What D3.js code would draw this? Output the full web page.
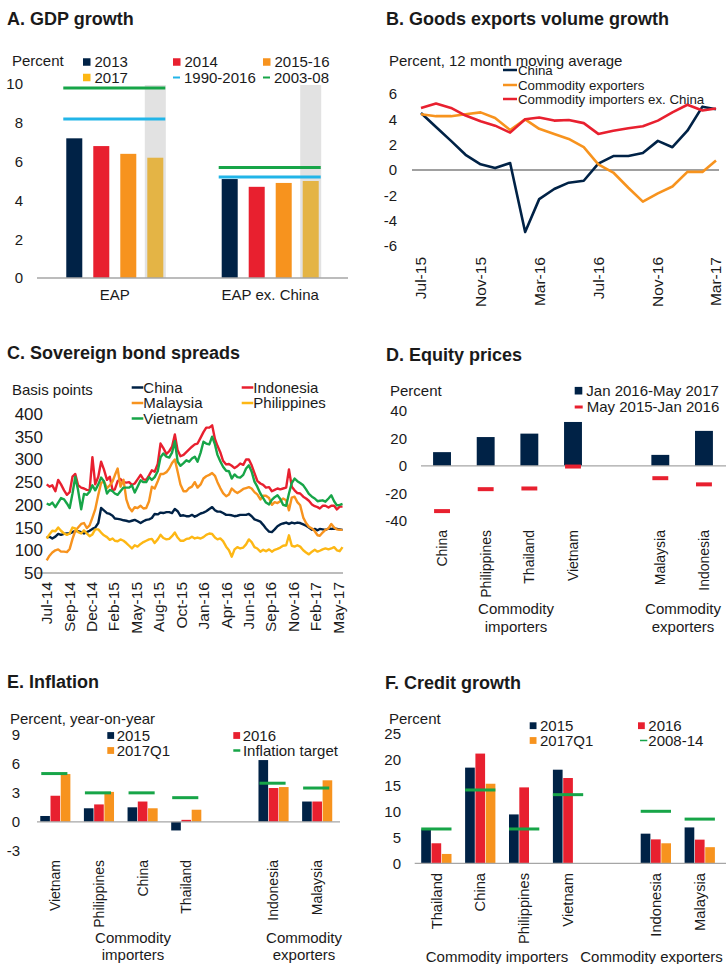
<!DOCTYPE html>
<html>
<head>
<meta charset="utf-8">
<script src="https://cdn.jsdelivr.net/npm/d3@7"></script>
<style>
  html, body { margin: 0; padding: 0; background: #ffffff; }
  svg { display: block; font-family: "Liberation Sans", Arial, sans-serif; }
</style>
</head>
<body>
<svg id="chart" width="728" height="964"></svg>
<script>
// ---------------- Panel A: GDP growth ----------------
const gdpCategories = ["EAP", "EAP ex. China"];
const gdpSeriesNames = ["2013", "2014", "2015-16", "2017"];
const gdp2013 = [7.2, 5.1];
const gdp2014 = [6.8, 4.7];
const gdp2015_16 = [6.4, 4.9];
const gdp2017 = [6.2, 5.0];
const gdpAvg1990_2016 = [8.2, 5.2];
const gdpAvg2003_08 = [9.8, 5.7];
const gdpTicks = [0, 2, 4, 6, 8, 10];

// ---------------- Panel B: Goods exports volume growth ----------------
const exportMonths = ["Jul-15","Aug-15","Sep-15","Oct-15","Nov-15","Dec-15","Jan-16","Feb-16","Mar-16","Apr-16","May-16","Jun-16","Jul-16","Aug-16","Sep-16","Oct-16","Nov-16","Dec-16","Jan-17","Feb-17","Mar-17"];
const exportChina = [4.5, 3.4, 2.3, 1.2, 0.45, 0.15, 0.55, -4.9, -2.3, -1.5, -1.0, -0.85, 0.5, 1.1, 1.1, 1.35, 2.3, 1.8, 3.1, 5.0, 4.8];
const exportCommodityExporters = [4.4, 4.25, 4.25, 4.4, 4.55, 4.1, 3.15, 4.0, 3.25, 2.85, 2.45, 1.8, 0.45, -0.2, -1.4, -2.5, -1.85, -1.3, -0.15, -0.15, 0.75];
const exportCommodityImporters = [4.9, 5.25, 4.9, 4.3, 3.85, 3.5, 2.95, 4.0, 4.15, 3.9, 3.95, 3.7, 2.85, 3.1, 3.3, 3.45, 3.9, 4.55, 5.15, 4.7, 4.85];
const exportTickMonths = ["Jul-15", "Nov-15", "Mar-16", "Jul-16", "Nov-16", "Mar-17"];
const exportYTicks = [-6, -4, -2, 0, 2, 4, 6];

// ---------------- Panel C: Sovereign bond spreads ----------------
const spreadDates = [
  "2014-07-01","2014-07-11","2014-07-21","2014-08-01","2014-08-11","2014-08-21","2014-09-01","2014-09-11","2014-09-21",
  "2014-10-01","2014-10-11","2014-10-21","2014-11-01","2014-11-11","2014-11-21","2014-12-01","2014-12-11","2014-12-21",
  "2015-01-01","2015-01-11","2015-01-21","2015-02-01","2015-02-11","2015-02-21","2015-03-01",
  "2015-03-11","2015-03-21","2015-04-01","2015-04-11","2015-04-21","2015-05-01","2015-05-11","2015-05-21",
  "2015-06-01","2015-06-11","2015-06-21","2015-07-01","2015-07-11","2015-07-21","2015-08-01","2015-08-11","2015-08-21",
  "2015-09-01","2015-09-11","2015-09-21","2015-10-01","2015-10-11","2015-10-21","2015-11-01","2015-11-11","2015-11-21",
  "2015-12-01","2015-12-11",
  "2015-12-21","2016-01-01","2016-01-11","2016-01-21","2016-02-01","2016-02-11","2016-02-21","2016-03-01","2016-03-11",
  "2016-03-21","2016-04-01","2016-04-11","2016-04-21","2016-05-01","2016-05-11","2016-05-21","2016-06-01","2016-06-11",
  "2016-06-21","2016-07-01","2016-07-11","2016-07-21","2016-08-01","2016-08-11","2016-08-21","2016-09-01",
  "2016-09-11","2016-09-21","2016-10-01","2016-10-11","2016-10-21","2016-11-01","2016-11-11","2016-11-21","2016-12-01",
  "2016-12-11","2016-12-21","2017-01-01","2017-01-11","2017-01-21","2017-02-01","2017-02-11","2017-02-21","2017-03-01",
  "2017-03-11","2017-03-21","2017-04-01","2017-04-11","2017-04-21","2017-05-01","2017-05-11","2017-05-21"
];
const spreadChina = [
  128,130,126,130,136,134,136,137,137,140,143,142,140,137,140,143,147,150,160,193,188,182,180,176,170,
  169,168,166,165,163,165,167,164,160,164,167,168,171,180,179,183,182,184,184,182,191,186,176,177,175,175,178,174,
  177,181,183,186,191,195,188,185,185,182,178,178,177,175,176,178,178,178,180,175,168,166,163,156,148,141,
  140,146,153,157,159,161,158,161,159,161,160,157,154,150,145,147,144,147,146,145,148,147,148,147,146,145
];
const spreadIndonesia = [
  245,240,243,230,255,245,232,222,228,262,268,243,238,236,233,232,305,245,262,295,278,255,262,232,234,
  252,257,250,249,250,244,247,256,266,256,255,265,276,273,290,335,325,312,318,328,355,320,307,310,316,322,328,333,
  335,348,360,370,370,375,345,330,316,297,289,290,286,281,285,291,288,300,300,287,270,253,247,244,238,239,
  230,233,236,234,236,238,278,240,232,226,225,218,214,209,201,197,195,192,198,198,194,198,198,190,196,196
];
const spreadMalaysia = [
  78,88,95,100,102,97,97,96,103,125,143,150,158,160,149,155,172,190,222,248,252,237,243,252,265,
  280,240,255,212,194,186,195,193,198,192,193,208,240,236,252,268,268,272,280,292,300,273,245,230,230,237,240,250,
  238,245,258,263,266,270,264,250,237,226,219,223,236,230,226,230,235,237,239,236,228,223,212,220,220,215,
  200,206,204,208,214,210,188,216,218,206,199,172,160,152,148,142,133,132,139,145,148,158,150,146,145,145
];
const spreadPhilippines = [
  126,135,143,142,150,143,137,134,137,150,148,140,137,144,137,131,135,146,146,139,133,129,123,126,121,
  120,124,121,116,110,104,111,108,114,118,121,124,125,116,124,134,127,124,125,131,139,128,121,121,125,126,130,126,
  128,126,129,134,137,136,128,124,126,120,108,100,86,102,107,104,106,113,124,118,107,104,97,101,98,102,
  97,101,103,106,110,111,133,110,108,111,108,100,95,91,97,101,97,99,102,104,102,104,107,100,98,107
];
const spreadVietnam = [
  203,200,205,195,205,215,212,203,193,225,262,232,190,224,222,229,243,232,245,260,252,225,233,230,225,
  222,230,238,238,238,243,227,240,254,250,250,261,255,261,274,305,313,306,304,315,340,295,286,292,298,295,302,306,
  295,315,339,335,333,350,333,310,296,284,275,274,258,267,261,260,266,280,287,273,251,240,225,215,205,201,
  211,217,221,213,200,198,225,248,258,252,248,243,234,224,218,214,208,209,210,207,214,221,208,199,200,202
];
const spreadTickDates = ["2014-07-01","2014-09-19","2014-12-08","2015-02-26","2015-05-17","2015-08-05","2015-10-24","2016-01-12","2016-04-01","2016-06-20","2016-09-08","2016-11-27","2017-02-15","2017-05-06"];
const spreadYTicks = [50, 100, 150, 200, 250, 300, 350, 400];

// ---------------- Panel D: Equity prices ----------------
const equityImporters = ["China", "Philippines", "Thailand", "Vietnam"];
const equityExporters = ["Malaysia", "Indonesia"];
const equityJan16May17 = [10, 21, 23.5, 32, 8, 25.5];
const equityMay15Jan16 = [-33, -17, -16.5, -0.5, -9, -13.5];
const equityYTicks = [-40, -20, 0, 20, 40];

// ---------------- Panel E: Inflation ----------------
const inflImporters = ["Vietnam", "Philippines", "China", "Thailand"];
const inflExporters = ["Indonesia", "Malaysia"];
const infl2015 = [0.6, 1.4, 1.5, -0.9, 6.4, 2.1];
const infl2016 = [2.7, 1.8, 2.1, 0.2, 3.5, 2.1];
const infl2017Q1 = [4.95, 3.1, 1.4, 1.25, 3.6, 4.3];
const inflTarget = [5, 3, 3, 2.5, 4, 3.5];
const inflYTicks = [-3, 0, 3, 6, 9];

// ---------------- Panel F: Credit growth ----------------
const creditImporters = ["Thailand", "China", "Philippines", "Vietnam"];
const creditExporters = ["Indonesia", "Malaysia"];
const credit2015 = [6.5, 18.4, 9.4, 18.0, 5.7, 6.9];
const credit2016 = [3.85, 21.1, 14.6, 16.4, 4.6, 4.55];
const credit2017Q1 = [1.8, 15.3, null, null, 3.85, 3.1];
const credit2008_14 = [6.6, 14.1, 6.6, 13.2, 10.0, 8.5];
const creditYTicks = [0, 5, 10, 15, 20, 25];

// ---------------- Styling ----------------
const NAVY = "#002246";
const RED = "#e8202f";
const ORANGE = "#f7931e";
const GOLD = "#fdb714";
const GOLD_BAR = "#e4b445";
const CYAN = "#22b5e8";
const GREEN = "#17a548";
const SHADE = "#e2e2e2";
const AXIS = "#a6a6a6";
const TEXT = "#1a1a1a";
const FONT = 15;
const FAMILY = '"Liberation Sans", Arial, sans-serif';

const svg = d3.select("#chart");
svg.append("rect").attr("width", 728).attr("height", 964).attr("fill", "#fff");

function label(parent, x, y, text, o = {}) {
  return parent.append("text")
    .attr("x", x).attr("y", y)
    .attr("dy", o.dy || "0.35em")
    .attr("text-anchor", o.anchor || "start")
    .attr("font-size", o.size || FONT)
    .attr("font-weight", o.weight || null)
    .attr("fill", o.fill || TEXT)
    .text(text);
}
function title(x, y, text) { label(svg, x, y, text, { size: 18, weight: "bold" }); }

function yAxis(parent, scale, ticks, xRight, size) {
  const g = parent.append("g")
    .attr("transform", `translate(${xRight},0)`)
    .call(d3.axisLeft(scale).tickValues(ticks).tickSize(0).tickPadding(0)
      .tickFormat(d => String(d)));
  g.select(".domain").remove();
  g.attr("font-size", size || FONT).attr("font-family", FAMILY).attr("color", TEXT);
  return g;
}
function hline(parent, x1, x2, y, color, w) {
  parent.append("line").attr("x1", x1).attr("x2", x2).attr("y1", y).attr("y2", y)
    .attr("stroke", color).attr("stroke-width", w);
}
function legendSquare(parent, x, y, size, color, text, gap) {
  parent.append("rect").attr("x", x).attr("y", y - size / 2).attr("width", size).attr("height", size).attr("fill", color);
  label(parent, x + size + gap, y, text);
}
function legendDash(parent, x, y, len, w, color, text, gap, size) {
  hline(parent, x, x + len, y, color, w);
  label(parent, x + len + gap, y, text, { size: size || FONT });
}
function rotatedLabels(parent, items, xFn, yTop, size, textFn) {
  return parent.selectAll(null).data(items).join("text")
    .attr("transform", d => `translate(${xFn(d)},${yTop}) rotate(-90)`)
    .attr("text-anchor", "end").attr("dy", "0.35em")
    .attr("font-size", size).attr("fill", TEXT)
    .text(textFn || (d => d));
}

// ================= Panel A =================
(function () {
  const g = svg.append("g");
  title(7, 19, "A. GDP growth");
  const y = d3.scaleLinear().domain([0, 10]).range([278, 84]);
  const x = d3.scaleBand().domain(gdpCategories).range([37, 348]).paddingInner(0.305).paddingOuter(0.153);
  const x1 = d3.scaleBand().domain(gdpSeriesNames).range([0, x.bandwidth()]).paddingInner(0.407).paddingOuter(0.2035);
  const values = [gdp2013, gdp2014, gdp2015_16, gdp2017];
  const colors = [NAVY, RED, ORANGE, GOLD_BAR];

  // forecast shading behind the 2017 bars
  g.selectAll(null).data(gdpCategories).join("rect")
    .attr("x", c => x(c) + x1("2017") - 2.5).attr("width", x1.bandwidth() + 5)
    .attr("y", y(10) + 1).attr("height", y(0) - y(10) - 1).attr("fill", SHADE);

  gdpSeriesNames.forEach((s, i) => {
    g.selectAll(null).data(gdpCategories).join("rect")
      .attr("x", c => x(c) + x1(s)).attr("width", x1.bandwidth())
      .attr("y", (c, j) => y(values[i][j]))
      .attr("height", (c, j) => y(0) - y(values[i][j]))
      .attr("fill", colors[i]);
  });
  hline(g, 37, 348, y(0), AXIS, 1.3);

  // long-run averages
  [[gdpAvg1990_2016, CYAN], [gdpAvg2003_08, GREEN]].forEach(([vals, col]) => {
    g.selectAll(null).data(gdpCategories).join("line")
      .attr("x1", c => x(c) + 2.5).attr("x2", c => x(c) + x.bandwidth() - 3.5)
      .attr("y1", (c, j) => y(vals[j])).attr("y2", (c, j) => y(vals[j]))
      .attr("stroke", col).attr("stroke-width", 3);
  });

  yAxis(g, y, gdpTicks, 23);
  gdpCategories.forEach(c => label(g, x(c) + x.bandwidth() / 2, 295, c, { anchor: "middle" }));

  label(g, 12, 61, "Percent");
  legendSquare(g, 83, 62, 7.5, NAVY, "2013", 4);
  legendSquare(g, 173, 62, 7.5, RED, "2014", 4);
  legendSquare(g, 263, 62, 7.5, ORANGE, "2015-16", 4);
  legendSquare(g, 83, 77.5, 7.5, GOLD, "2017", 4);
  legendDash(g, 173, 77.5, 7, 2, CYAN, "1990-2016", 4);
  legendDash(g, 263, 77.5, 7, 2, GREEN, "2003-08", 4);
})();

// ================= Panel B =================
(function () {
  const g = svg.append("g");
  title(386, 19, "B. Goods exports volume growth");
  const parse = d3.timeParse("%b-%y");
  const months = exportMonths.map(parse);
  const x = d3.scaleTime().domain([months[0], months[months.length - 1]]).range([421, 716]);
  const y = d3.scaleLinear().domain([-6, 6]).range([246, 94]);

  hline(g, 412, 719, y(0), "#808080", 1.5);
  const line = d3.line().x((d, i) => x(months[i])).y(d => y(d));
  [[exportChina, NAVY], [exportCommodityExporters, ORANGE], [exportCommodityImporters, RED]].forEach(([vals, col]) => {
    g.append("path").datum(vals).attr("d", line).attr("fill", "none")
      .attr("stroke", col).attr("stroke-width", 2.6).attr("stroke-linejoin", "round");
  });

  yAxis(g, y, exportYTicks, 397);
  rotatedLabels(g, exportTickMonths, m => x(parse(m)), 257, 15.5);

  label(g, 389, 61, "Percent, 12 month moving average");
  legendDash(g, 503, 70, 14, 2.5, NAVY, "China", 1, 13.3);
  legendDash(g, 503, 85, 14, 2.5, ORANGE, "Commodity exporters", 1, 13.3);
  legendDash(g, 503, 99, 14, 2.5, RED, "Commodity importers ex. China", 1, 13.3);
})();

// ================= Panel C =================
(function () {
  const g = svg.append("g");
  title(7, 353, "C. Sovereign bond spreads");
  const parse = d3.timeParse("%Y-%m-%d");
  const dates = spreadDates.map(parse);
  const x = d3.scaleTime().domain([parse("2014-07-01"), parse("2017-05-22")]).range([46.7, 342.8]);
  const y = d3.scaleLinear().domain([50, 400]).range([573, 414]);

  hline(g, 36.7, 343, y(50), AXIS, 1.3);
  const line = d3.line().x((d, i) => x(dates[i])).y(d => y(d));
  [[spreadChina, NAVY], [spreadIndonesia, RED], [spreadMalaysia, ORANGE],
   [spreadPhilippines, GOLD], [spreadVietnam, GREEN]].forEach(([vals, col]) => {
    g.append("path").datum(vals).attr("d", line).attr("fill", "none")
      .attr("stroke", col).attr("stroke-width", 2.4).attr("stroke-linejoin", "round");
  });

  yAxis(g, y, spreadYTicks, 43, 17);
  const fmt = d3.timeFormat("%b-%y");
  rotatedLabels(g, spreadTickDates, s => x(parse(s)), 582, 15.5, s => fmt(parse(s)));

  label(g, 12, 390, "Basis points");
  legendDash(g, 131.7, 387.5, 11.6, 2.5, NAVY, "China", 0);
  legendDash(g, 241.7, 387.5, 11.6, 2.5, RED, "Indonesia", 0);
  legendDash(g, 131.7, 403, 11.6, 2.5, ORANGE, "Malaysia", 0);
  legendDash(g, 241.7, 403, 11.6, 2.5, GOLD, "Philippines", 0);
  legendDash(g, 131.7, 418.5, 11.6, 2.5, GREEN, "Vietnam", 0);
})();

// ================= Panel D =================
(function () {
  const g = svg.append("g");
  title(386, 355, "D. Equity prices");
  const countries = [...equityImporters, ...equityExporters];
  const slots = [...equityImporters, "", ...equityExporters];
  const x = d3.scalePoint().domain(slots).range([420.2, 725.8]).padding(0.5);
  const bw = x.step() * 0.41;
  const y = d3.scaleLinear().domain([-40, 40]).range([520.7, 411]);

  g.selectAll(null).data(countries).join("rect")
    .attr("x", c => x(c) - bw / 2).attr("width", bw)
    .attr("y", (c, i) => y(Math.max(0, equityJan16May17[i])))
    .attr("height", (c, i) => Math.abs(y(equityJan16May17[i]) - y(0)))
    .attr("fill", NAVY);
  hline(g, 421, 726, y(0), AXIS, 1.3);
  g.selectAll(null).data(countries).join("line")
    .attr("x1", c => x(c) - bw / 2 + 1).attr("x2", c => x(c) + bw / 2 - 1)
    .attr("y1", (c, i) => y(equityMay15Jan16[i])).attr("y2", (c, i) => y(equityMay15Jan16[i]))
    .attr("stroke", RED).attr("stroke-width", 4);

  yAxis(g, y, equityYTicks, 407);
  rotatedLabels(g, countries, c => x(c), 530, 14);

  label(g, 390, 391, "Percent");
  legendSquare(g, 574.7, 390.7, 7.6, NAVY, "Jan 2016-May 2017", 4);
  legendDash(g, 574.7, 407, 8, 3, RED, "May 2015-Jan 2016", 4);

  label(g, 516, 609, "Commodity", { anchor: "middle" });
  label(g, 516, 627, "importers", { anchor: "middle" });
  label(g, 683, 609, "Commodity", { anchor: "middle" });
  label(g, 683, 627, "exporters", { anchor: "middle" });
})();

// ---------- grouped bars with reference dashes (panels E and F) ----------
function groupedPanel(o) {
  const g = svg.append("g");
  const countries = [...o.importers, ...o.exporters];
  const slots = [...o.importers, "", ...o.exporters];
  const x = d3.scalePoint().domain(slots).range(o.xRange).padding(0.5);
  const half = x.step() * 0.345;
  const x1 = d3.scaleBand().domain(o.seriesNames).range([-half, half]).paddingInner(0.06);
  const y = d3.scaleLinear().domain(o.yDomain).range(o.yRange);

  o.series.forEach((vals, si) => {
    const pts = countries.map((c, i) => ({ c, v: vals[i] })).filter(d => d.v !== null);
    g.selectAll(null).data(pts).join("rect")
      .attr("x", d => x(d.c) + x1(o.seriesNames[si])).attr("width", x1.bandwidth())
      .attr("y", d => y(Math.max(0, d.v)))
      .attr("height", d => Math.abs(y(d.v) - y(0)))
      .attr("fill", o.colors[si]);
  });
  hline(g, o.baseX[0], o.baseX[1], y(0), AXIS, 1.3);
  g.selectAll(null).data(countries).join("line")
    .attr("x1", c => x(c) - half + o.dashInset[0]).attr("x2", c => x(c) + half - o.dashInset[1])
    .attr("y1", (c, i) => y(o.reference[i])).attr("y2", (c, i) => y(o.reference[i]))
    .attr("stroke", GREEN).attr("stroke-width", 3);

  yAxis(g, y, o.yTicks, o.axisX);
  rotatedLabels(g, countries, c => x(c), o.labelTop, o.labelSize);
  return g;
}

// ================= Panel E =================
(function () {
  title(7, 682, "E. Inflation");
  const g = groupedPanel({
    importers: inflImporters, exporters: inflExporters,
    seriesNames: ["2015", "2016", "2017Q1"],
    series: [infl2015, infl2016, infl2017Q1],
    colors: [NAVY, RED, ORANGE],
    reference: inflTarget,
    xRange: [33.5, 339], yDomain: [-3, 9], yRange: [850.7, 735],
    baseX: [37, 340], dashInset: [1, 3],
    yTicks: inflYTicks, axisX: 20, labelTop: 860, labelSize: 14
  });
  label(g, 10, 719, "Percent, year-on-year");
  legendSquare(g, 107.3, 735.5, 6.8, NAVY, "2015", 2.6);
  legendSquare(g, 233.3, 735.5, 6.8, RED, "2016", 2.6);
  legendSquare(g, 107.3, 750.5, 6.8, ORANGE, "2017Q1", 2.6);
  legendDash(g, 233.3, 750.5, 7, 2.5, GREEN, "Inflation target", 2.6);
  label(g, 133, 938, "Commodity", { anchor: "middle" });
  label(g, 133, 955, "importers", { anchor: "middle" });
  label(g, 304, 938, "Commodity", { anchor: "middle" });
  label(g, 304, 955, "exporters", { anchor: "middle" });
})();

// ================= Panel F =================
(function () {
  title(385, 683, "F. Credit growth");
  const g = groupedPanel({
    importers: creditImporters, exporters: creditExporters,
    seriesNames: ["2015", "2016", "2017Q1"],
    series: [credit2015, credit2016, credit2017Q1],
    colors: [NAVY, RED, ORANGE],
    reference: credit2008_14,
    xRange: [414.4, 721.7], yDomain: [0, 25], yRange: [863.3, 733.3],
    baseX: [414.7, 726], dashInset: [0, 0],
    yTicks: creditYTicks, axisX: 401, labelTop: 873, labelSize: 14.7
  });
  label(g, 389, 719, "Percent");
  legendSquare(g, 529.7, 725.7, 6.8, NAVY, "2015", 3.5);
  legendSquare(g, 638, 725.7, 6.8, RED, "2016", 3.5);
  legendSquare(g, 529.7, 740.5, 6.8, ORANGE, "2017Q1", 3.5);
  legendDash(g, 640, 740.5, 7.3, 1.5, GREEN, "2008-14", 1);
  label(g, 497, 957, "Commodity importers", { anchor: "middle" });
  label(g, 651.5, 957, "Commodity exporters", { anchor: "middle" });
})();
</script>
</body>
</html>
